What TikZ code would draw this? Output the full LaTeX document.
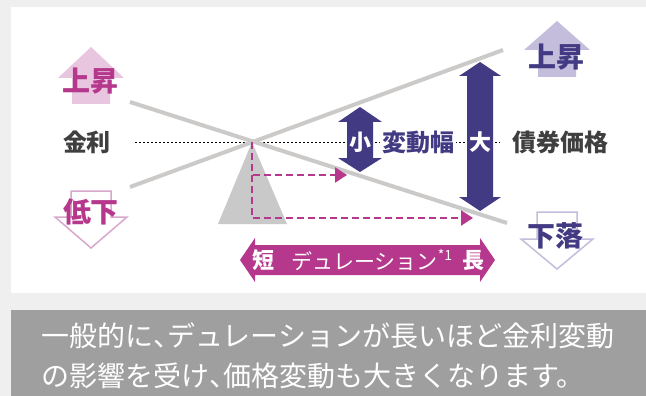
\documentclass[tikz,border=0pt]{standalone}
\usepackage{fontspec}
\newfontfamily\jp{Noto Sans CJK JP}
\usetikzlibrary{arrows.meta}
\definecolor{bg}{HTML}{EFEFEF}
\definecolor{boxgray}{HTML}{9E9F9E}
\definecolor{mag}{HTML}{B5388C}
\definecolor{pinklt}{HTML}{E8C6DF}
\definecolor{pinkln}{HTML}{D8A8CC}
\definecolor{purp}{HTML}{433A84}
\definecolor{lav}{HTML}{C4BDDC}
\definecolor{linegray}{HTML}{CBCAC8}
\definecolor{trigray}{HTML}{C9C9C9}
\definecolor{txtgray}{HTML}{3F3F3F}
\tikzset{
  jpb/.style={font=\jp\bfseries\fontsize{#1}{#1}\selectfont, inner sep=0pt},
  jpr/.style={font=\jp\fontsize{#1}{#1}\selectfont, inner sep=0pt},
  seesaw/.style={draw=linegray, line width=4pt},
  dotline/.style={draw=black, line width=0.7pt, dash pattern=on 2pt off 2pt},
  durarrow/.style={draw=mag, line width=2.2pt, dash pattern=on 7pt off 4pt,
    -{Triangle[length=12pt,width=15pt]}},
}
\begin{document}
\begin{tikzpicture}[x=1pt,y=-1pt]
\useasboundingbox (0,0) rectangle (646,396);
\fill[bg] (0,0) rectangle (646,396);
\fill[white] (11,7) rectangle (646,293);
\fill[boxgray] (11,310) rectangle (646,396);

% coordinates
\coordinate (pivot) at (252,142);
\coordinate (dotL) at (135,142);
\coordinate (dotR) at (500,142);
\coordinate (longtip) at (473,218);
\coordinate (shortstart) at (253,175);
\coordinate (shorttip) at (347,175);

% dotted reference line
\draw[dotline] (dotL) -- (dotR);

% seesaw lines
\draw[seesaw] (130,102) -- (507,223);
\draw[seesaw] (130,187) -- (503,50);

% fulcrum
\fill[trigray] (pivot) -- (287,224) -- (218,224) -- cycle;

% duration dashed arrows
\draw[durarrow] (pivot) |- (longtip);
\draw[durarrow] (shortstart) -- (shorttip);

% interest rate arrows (left)
\fill[pinklt] (91,47) -- (124,78) -- (110,78) -- (110,104) -- (72,104) -- (72,78) -- (58,78) -- cycle;
\draw[pinkln, line width=1.5pt, fill=white] (71,191) -- (111,191) -- (111,217) -- (127,217) -- (91,248) -- (55,217) -- (71,217) -- cycle;
\node[jpb=28, text=mag] (rup) at (90,81) {上昇};
\node[jpb=28, text=mag] (rdown) at (91,212) {低下};

% bond price arrows (right)
\fill[lav] (557,21) -- (590,50) -- (576,50) -- (576,77) -- (538,77) -- (538,50) -- (524,50) -- cycle;
\draw[lav, line width=1.5pt, fill=white] (537,212) -- (577,212) -- (577,239) -- (593,239) -- (557,269) -- (521,239) -- (537,239) -- cycle;
\node[jpb=28, text=purp] (pup) at (556,57) {上昇};
\node[jpb=28, text=purp] (pdown) at (555,236) {下落};

% labels
\node[jpb=24, text=txtgray] (kinri) at (87,142) {金利};
\node[jpb=24, text=txtgray] (saiken) at (560,142) {債券価格};
\node[jpb=24, text=purp, fill=white, inner xsep=2pt, inner ysep=1pt] (hendo) at (418,142) {変動幅};

% small double arrow
\fill[purp] (360,107) -- (382,122) -- (373,122) -- (373,158) -- (382,158) -- (360,172) -- (338,158) -- (347,158) -- (347,122) -- (338,122) -- cycle;
\node[jpb=22, text=white] (small) at (360,142) {小};

% large double arrow
\fill[purp] (480,62) -- (501,76) -- (493,76) -- (493,197) -- (501,197) -- (480,211) -- (459,197) -- (467,197) -- (467,76) -- (459,76) -- cycle;
\node[jpb=22, text=white] (large) at (480,142) {大};

% duration double arrow
\fill[mag] (240,260) -- (255,238) -- (255,245) -- (480,245) -- (480,238) -- (495,260) -- (480,282) -- (480,275) -- (255,275) -- (255,282) -- cycle;
\node[jpb=22, text=white] (short) at (263,260) {短};
\node[jpr=21, text=white] (dur) at (372,260) {デュレーション\raisebox{0.45em}{\fontsize{14}{14}\selectfont *1}};
\node[jpb=22, text=white] (long) at (473,260) {長};

% note text
\node[jpr=28, text=white, anchor=base west] (note1) at (41,346) {一般的に\makebox[14pt][l]{、}デュレーションが長いほど金利変動};
\node[jpr=28, text=white, anchor=base west] (note2) at (41,386) {の影響を受け\makebox[14pt][l]{、}価格変動も大きくなります。};
\end{tikzpicture}
\end{document}
